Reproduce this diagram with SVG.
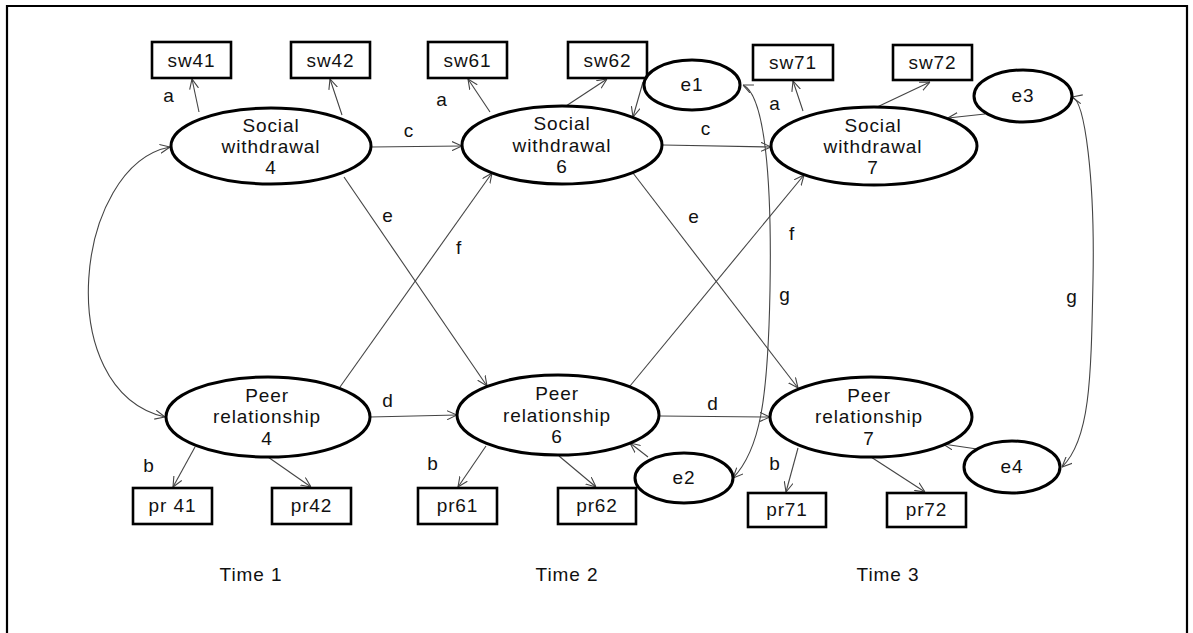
<svg xmlns="http://www.w3.org/2000/svg" width="1193" height="633" viewBox="0 0 1193 633">
<defs>
<style>
.t{font-family:"Liberation Sans",Arial,sans-serif;font-size:19px;fill:#111;text-anchor:middle;letter-spacing:0.9px}
.lv{fill:#fff;stroke:#000;stroke-width:3}
.bx{fill:#fff;stroke:#000;stroke-width:2.6}
.c{fill:none;stroke:#444;stroke-width:1.1;marker-end:url(#ah)}
.cc{fill:none;stroke:#444;stroke-width:1.1;marker-end:url(#ah);marker-start:url(#ah)}
</style>
<marker id="ah" viewBox="0 0 10 10" refX="10" refY="5" markerWidth="10" markerHeight="10" markerUnits="userSpaceOnUse" orient="auto-start-reverse">
<path d="M0,0.5 L10,5 L0,9.5" fill="none" stroke="#444" stroke-width="1.1"/>
</marker>
</defs>
<rect width="1193" height="633" fill="#fff"/>
<path d="M7,640 V6 H1187 V640" fill="none" stroke="#000" stroke-width="2.2"/>

<g id="connectors">
<line class="c" x1="199" y1="112" x2="192" y2="79"/>
<line class="c" x1="342" y1="115" x2="330" y2="79"/>
<line class="c" x1="490" y1="112" x2="468" y2="79"/>
<line class="c" x1="566" y1="106" x2="607" y2="79"/>
<line class="c" x1="803" y1="111" x2="793" y2="81"/>
<line class="c" x1="875" y1="108" x2="930" y2="82"/>
<line class="c" x1="643" y1="82" x2="633" y2="117"/>
<line class="c" x1="985" y1="114" x2="948" y2="118"/>
<line class="c" x1="371" y1="147" x2="462" y2="146"/>
<line class="c" x1="663" y1="145" x2="771" y2="147"/>
<line class="c" x1="370" y1="417" x2="457" y2="415"/>
<line class="c" x1="660" y1="416" x2="770" y2="417"/>
<line class="c" x1="344" y1="177" x2="487" y2="386"/>
<line class="c" x1="340" y1="387" x2="492" y2="173"/>
<line class="c" x1="633" y1="173" x2="798" y2="388"/>
<line class="c" x1="630" y1="386" x2="804" y2="175"/>
<line class="c" x1="195" y1="447" x2="173" y2="487"/>
<line class="c" x1="268" y1="457" x2="311" y2="487"/>
<line class="c" x1="486" y1="446" x2="458" y2="487"/>
<line class="c" x1="559" y1="456" x2="596" y2="487"/>
<line class="c" x1="798" y1="448" x2="786" y2="492"/>
<line class="c" x1="871" y1="457" x2="925" y2="492"/>
<line class="c" x1="648" y1="457" x2="630" y2="443"/>
<line class="c" x1="977" y1="449" x2="943" y2="444"/>
<path class="cc" d="M170,147 C75,165 50,390 165,417"/>
<path class="cc" d="M743,85 C765,95 772,180 770,290 C768,400 760,450 733,478"/>
<path class="cc" d="M1072,97 C1085,100 1095,180 1093,280 C1091,380 1090,440 1062,467"/>
</g>

<g id="sw41"><rect class="bx" x="152" y="42" width="79" height="36"/><text class="t" x="191.5" y="67">sw41</text></g>
<g id="sw42"><rect class="bx" x="291" y="42" width="79" height="36"/><text class="t" x="330.5" y="67">sw42</text></g>
<g id="sw61"><rect class="bx" x="428" y="42" width="79" height="36"/><text class="t" x="467.5" y="67">sw61</text></g>
<g id="sw62"><rect class="bx" x="568" y="42" width="79" height="36"/><text class="t" x="607.5" y="67">sw62</text></g>
<g id="sw71"><rect class="bx" x="753" y="45" width="80" height="35"/><text class="t" x="793" y="69">sw71</text></g>
<g id="sw72"><rect class="bx" x="893" y="45" width="79" height="35"/><text class="t" x="932.5" y="69">sw72</text></g>

<g id="pr41"><rect class="bx" x="133" y="488" width="79" height="36"/><text class="t" x="172.5" y="512">pr 41</text></g>
<g id="pr42"><rect class="bx" x="272" y="488" width="79" height="36"/><text class="t" x="311.5" y="512">pr42</text></g>
<g id="pr61"><rect class="bx" x="418" y="488" width="79" height="36"/><text class="t" x="457.5" y="512">pr61</text></g>
<g id="pr62"><rect class="bx" x="558" y="488" width="78" height="36"/><text class="t" x="597" y="512">pr62</text></g>
<g id="pr71"><rect class="bx" x="748" y="493" width="78" height="34"/><text class="t" x="787" y="516">pr71</text></g>
<g id="pr72"><rect class="bx" x="887" y="493" width="79" height="34"/><text class="t" x="926.5" y="516">pr72</text></g>

<g id="SW4"><ellipse class="lv" cx="271" cy="146" rx="100" ry="38"/><text class="t" x="271" y="132">Social</text><text class="t" x="271" y="153">withdrawal</text><text class="t" x="271" y="174">4</text></g>
<g id="SW6"><ellipse class="lv" cx="562" cy="145" rx="100" ry="39"/><text class="t" x="562" y="130">Social</text><text class="t" x="562" y="152">withdrawal</text><text class="t" x="562" y="173">6</text></g>
<g id="SW7"><ellipse class="lv" cx="874" cy="146" rx="103" ry="39"/><text class="t" x="873" y="132">Social</text><text class="t" x="873" y="153">withdrawal</text><text class="t" x="873" y="174">7</text></g>
<g id="PR4"><ellipse class="lv" cx="268" cy="417" rx="102" ry="40"/><text class="t" x="267" y="402">Peer</text><text class="t" x="267" y="423">relationship</text><text class="t" x="267" y="445">4</text></g>
<g id="PR6"><ellipse class="lv" cx="558" cy="415" rx="101" ry="40"/><text class="t" x="557" y="400">Peer</text><text class="t" x="557" y="422">relationship</text><text class="t" x="557" y="443">6</text></g>
<g id="PR7"><ellipse class="lv" cx="871" cy="417" rx="101" ry="40"/><text class="t" x="869" y="402">Peer</text><text class="t" x="869" y="423">relationship</text><text class="t" x="869" y="445">7</text></g>

<g id="e1"><ellipse class="lv" cx="692" cy="85" rx="48" ry="25"/><text class="t" x="692" y="91">e1</text></g>
<g id="e2"><ellipse class="lv" cx="684" cy="478" rx="49" ry="25"/><text class="t" x="684" y="484">e2</text></g>
<g id="e3"><ellipse class="lv" cx="1023" cy="96" rx="49" ry="26"/><text class="t" x="1023" y="102">e3</text></g>
<g id="e4"><ellipse class="lv" cx="1012" cy="467" rx="48" ry="26"/><text class="t" x="1012" y="473">e4</text></g>

<g id="labels">
<text class="t" x="169" y="102">a</text>
<text class="t" x="442" y="106">a</text>
<text class="t" x="775" y="110">a</text>
<text class="t" x="409" y="137">c</text>
<text class="t" x="706" y="135">c</text>
<text class="t" x="388" y="222">e</text>
<text class="t" x="694" y="223">e</text>
<text class="t" x="459" y="254">f</text>
<text class="t" x="792" y="240">f</text>
<text class="t" x="785" y="301">g</text>
<text class="t" x="1072" y="303">g</text>
<text class="t" x="388" y="407">d</text>
<text class="t" x="713" y="410">d</text>
<text class="t" x="149" y="472">b</text>
<text class="t" x="433" y="470">b</text>
<text class="t" x="775" y="470">b</text>
<text class="t" x="251" y="581">Time 1</text>
<text class="t" x="567" y="581">Time 2</text>
<text class="t" x="888" y="581">Time 3</text>
</g>
</svg>
